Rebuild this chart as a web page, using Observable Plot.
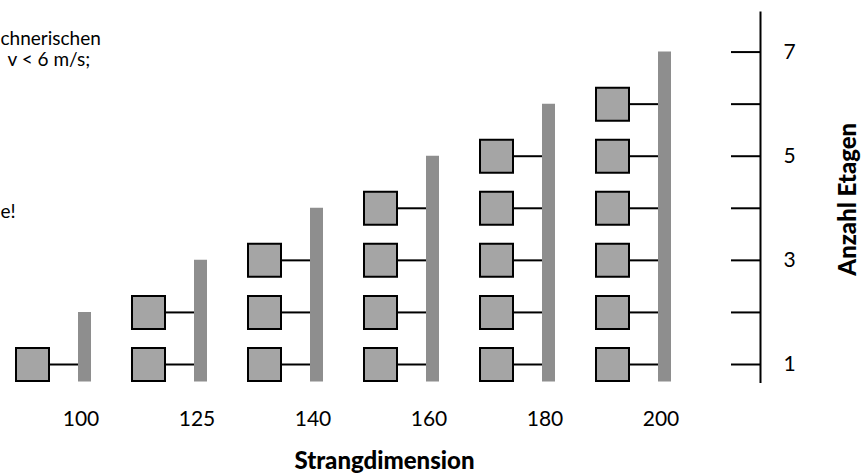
<!DOCTYPE html>
<html>
<head>
<meta charset="utf-8">
<script src="https://cdn.jsdelivr.net/npm/d3@7"></script>
<script src="https://cdn.jsdelivr.net/npm/@observablehq/plot@0.6"></script>
<style>
  html, body { margin: 0; padding: 0; background: #fff; }
</style>
</head>
<body>
<div id="chart"></div>
<script>
// ---- data ----
const dimensions = ["100", "125", "140", "160", "180", "200"];   // Strangdimension
const floorCounts = [1, 2, 3, 4, 5, 6];                           // Etagen mit Anschluss
const riserTops = [2, 3, 4, 5, 6, 7];                             // Höhe des Strangs (Etagen)
const yTicks = [1, 2, 3, 4, 5, 6, 7];
const yTickLabels = ["1", "", "3", "", "5", "", "7"];
const xLabel = "Strangdimension";
const yLabel = "Anzahl Etagen";
const noteLines = ["chnerischen", "v < 6 m/s;", "e!"];

// ---- tables built from the arrays ----
const risers = dimensions.map((d, i) => ({dim: d, top: riserTops[i]}));
const units = dimensions.flatMap((d, i) => d3.range(1, floorCounts[i] + 1).map(f => ({dim: d, floor: f})));

const W = 862, H = 474;
const marginTop = 12, marginRight = 102, marginBottom = 92.5, marginLeft = 0;
const yDomain = [0.664, 7.76];
const frameRight = W - marginRight;

// connector line symbol (horizontal stub from box to riser)
const stub = {draw(ctx) { ctx.moveTo(-35, 0); ctx.lineTo(-6.5, 0); }};

const chart = Plot.plot({
  width: W,
  height: H,
  marginTop, marginRight, marginBottom, marginLeft,
  style: {fontFamily: "Lato, 'Open Sans', sans-serif", fontSize: "21px", background: "#fff", color: "#000"},
  x: {type: "point", domain: dimensions, range: [81.5, 665.5], padding: 0, axis: null},
  y: {domain: yDomain, axis: null},
  marks: [
    // risers
    Plot.ruleX(risers, {x: "dim", y1: () => yDomain[0], y2: "top", stroke: "#8e8e8e", strokeWidth: 13}),
    // connectors
    Plot.dot(units, {x: "dim", y: "floor", symbol: stub, r: 5, fill: "none", stroke: "#000", strokeWidth: 2}),
    // boxes
    Plot.dot(units, {x: "dim", y: "floor", symbol: "square", r: 33 / Math.sqrt(Math.PI), dx: -52,
      fill: "#a5a5a5", stroke: "#000", strokeWidth: 2}),
    // x axis tick labels
    Plot.axisX({anchor: "bottom", tickSize: 0, tickPadding: 29, dx: -3.5, fontSize: 21, label: null}),
    // right axis: line, ticks, labels
    Plot.frame({anchor: "right", stroke: "#000", strokeWidth: 2}),
    Plot.ruleY(yTicks, {y: d => d, insetLeft: frameRight - 29, stroke: "#000", strokeWidth: 2}),
    Plot.axisY(yTicks, {anchor: "right", tickSize: 0, tickPadding: 23, fontSize: 21, label: null,
      tickFormat: d => yTickLabels[yTicks.indexOf(d)]}),
    // axis titles
    Plot.text([xLabel], {frameAnchor: "bottom", lineAnchor: "middle", textAnchor: "middle",
      dy: 79, dx: 4, fontSize: 24, fontWeight: 900}),
    Plot.text([yLabel], {frameAnchor: "right", lineAnchor: "middle", textAnchor: "middle",
      rotate: -90, dx: 87.5, dy: 2, fontSize: 24, fontWeight: 900}),
    // clipped annotation on the left
    Plot.text([noteLines[0]], {frameAnchor: "top-left", lineAnchor: "middle", dx: 0, dy: 26, textAnchor: "start", fontSize: 19}),
    Plot.text([noteLines[1]], {frameAnchor: "top-left", lineAnchor: "middle", dx: 7, dy: 47, textAnchor: "start", fontSize: 19}),
    Plot.text([noteLines[2]], {frameAnchor: "top-left", lineAnchor: "middle", dx: 0, dy: 199, textAnchor: "start", fontSize: 19})
  ]
});
document.getElementById("chart").appendChild(chart);
</script>
</body>
</html>
